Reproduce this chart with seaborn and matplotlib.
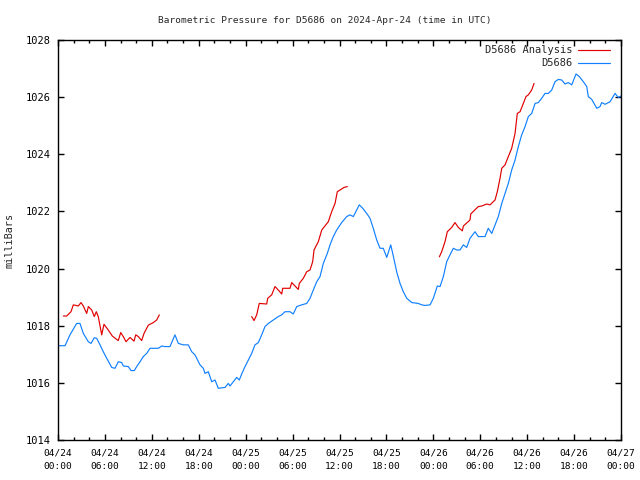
import matplotlib
matplotlib.use('Agg')

import matplotlib.pyplot as plt
import matplotlib.dates as mdates
import seaborn as sns
import pandas as pd
import numpy as np

# hours after 2024-04-24 00:00 UTC, pressure in mbar
blue_hours = [0.00, 0.90, 1.53, 2.39, 2.81, 3.24, 3.88, 4.22, 4.64, 4.95, 5.37, 5.79, 6.23, 6.87,
              7.29, 7.71, 8.15, 8.35, 8.99, 9.34, 9.76, 10.07, 10.49, 10.91, 11.34, 11.77, 12.83,
              13.26, 13.68, 14.32, 14.96, 15.39, 16.03, 16.66, 17.10, 17.52, 18.16, 18.58, 18.80,
              19.22, 19.66, 20.08, 20.50, 21.36, 21.78, 22.00, 22.42, 22.85, 23.19, 23.49, 23.92,
              24.34, 24.77, 25.19, 25.62, 26.05, 26.47, 26.90, 27.54, 28.17, 28.61, 29.03, 29.67,
              30.09, 30.53, 31.17, 31.81, 32.23, 32.65, 33.09, 33.51, 33.93, 34.44, 34.79, 35.21,
              35.64, 36.28, 36.92, 37.34, 37.77, 38.20, 38.53, 38.97, 39.48, 39.90, 40.32, 40.76,
              41.18, 41.60, 42.04, 42.55, 42.88, 43.32, 43.74, 44.16, 44.60, 45.24, 46.08, 46.51,
              46.94, 47.58, 48.00, 48.51, 48.86, 49.28, 49.71, 50.13, 50.56, 50.99, 51.41, 51.84,
              52.27, 52.69, 53.33, 53.75, 54.61, 55.03, 55.47, 55.89, 56.31, 56.75, 57.17, 57.59,
              58.02, 58.45, 58.87, 59.30, 59.73, 60.15, 60.58, 61.01, 61.43, 61.86, 62.28, 62.71,
              63.14, 63.56, 63.98, 64.42, 64.84, 65.26, 65.70, 66.25, 66.67, 67.18, 67.62, 67.82,
              68.26, 68.90, 69.32, 69.53, 69.96, 70.60, 71.24, 71.66, 72.00]
blue_mbar = [1017.30, 1017.30, 1017.68, 1018.08, 1018.08, 1017.73, 1017.44, 1017.38, 1017.58,
             1017.56, 1017.33, 1017.09, 1016.86, 1016.54, 1016.51, 1016.74, 1016.71, 1016.59,
             1016.57, 1016.43, 1016.43, 1016.57, 1016.74, 1016.92, 1017.03, 1017.21, 1017.21,
             1017.29, 1017.27, 1017.27, 1017.68, 1017.38, 1017.33, 1017.33, 1017.09, 1016.98,
             1016.63, 1016.51, 1016.33, 1016.39, 1016.04, 1016.10, 1015.81, 1015.84, 1015.98,
             1015.89, 1016.04, 1016.19, 1016.10, 1016.31, 1016.57, 1016.80, 1017.03, 1017.33,
             1017.41, 1017.68, 1017.97, 1018.08, 1018.20, 1018.32, 1018.38, 1018.49, 1018.49,
             1018.41, 1018.67, 1018.73, 1018.78, 1018.96, 1019.25, 1019.54, 1019.72, 1020.18,
             1020.53, 1020.83, 1021.12, 1021.35, 1021.61, 1021.82, 1021.88, 1021.82, 1022.05,
             1022.23, 1022.11, 1021.93, 1021.76, 1021.41, 1021.00, 1020.71, 1020.71, 1020.39,
             1020.83, 1020.44, 1019.88, 1019.48, 1019.19, 1018.96, 1018.81, 1018.78, 1018.73,
             1018.71, 1018.73, 1018.96, 1019.39, 1019.37, 1019.72, 1020.24, 1020.48, 1020.71,
             1020.65, 1020.65, 1020.83, 1020.74, 1021.06, 1021.29, 1021.12, 1021.12, 1021.41,
             1021.23, 1021.53, 1021.82, 1022.28, 1022.63, 1022.98, 1023.45, 1023.80, 1024.27,
             1024.68, 1024.97, 1025.32, 1025.43, 1025.78, 1025.81, 1025.96, 1026.13, 1026.13,
             1026.25, 1026.54, 1026.62, 1026.60, 1026.46, 1026.51, 1026.43, 1026.81, 1026.72,
             1026.54, 1026.37, 1026.02, 1025.92, 1025.61, 1025.67, 1025.81, 1025.75, 1025.84,
             1026.13, 1025.99, 1026.04]

# analysis, three separate runs
red_hours_1 = [0.68, 1.11, 1.66, 1.96, 2.60, 2.94, 3.24, 3.67, 3.88, 4.31, 4.64, 4.90, 5.15, 5.59,
               5.88, 6.43, 6.94, 7.51, 7.71, 8.02, 8.35, 8.70, 9.21, 9.72, 9.94, 10.27, 10.70,
               11.00, 11.55, 12.19, 12.62, 12.96]
red_mbar_1 = [1018.34, 1018.34, 1018.49, 1018.73, 1018.69, 1018.81, 1018.69, 1018.43, 1018.67,
              1018.55, 1018.32, 1018.49, 1018.32, 1017.68, 1018.05, 1017.85, 1017.64, 1017.52,
              1017.48, 1017.76, 1017.62, 1017.44, 1017.59, 1017.46, 1017.68, 1017.62, 1017.48,
              1017.73, 1018.02, 1018.11, 1018.20, 1018.38]
red_hours_2 = [24.77, 25.07, 25.41, 25.74, 26.69, 26.82, 27.33, 27.75, 28.17, 28.61, 28.74, 29.67,
               29.89, 30.31, 30.73, 30.86, 31.37, 31.81, 32.23, 32.57, 32.74, 33.29, 33.73, 34.57,
               35.00, 35.43, 35.72, 36.07, 36.58, 37.00]
red_mbar_2 = [1018.32, 1018.18, 1018.38, 1018.78, 1018.76, 1018.96, 1019.08, 1019.37, 1019.25,
              1019.11, 1019.31, 1019.31, 1019.51, 1019.39, 1019.27, 1019.48, 1019.66, 1019.89,
              1019.95, 1020.24, 1020.65, 1020.94, 1021.35, 1021.64, 1021.99, 1022.28, 1022.69,
              1022.75, 1022.84, 1022.87]
red_hours_3 = [48.77, 49.07, 49.49, 49.79, 50.35, 50.77, 51.20, 51.71, 51.84, 52.69, 52.78, 53.75,
               54.19, 54.83, 55.25, 55.89, 56.18, 56.53, 56.75, 57.17, 57.59, 58.02, 58.45, 58.74,
               59.09, 59.51, 59.85, 60.15, 60.58, 60.88]
red_mbar_3 = [1020.41, 1020.59, 1020.94, 1021.29, 1021.44, 1021.61, 1021.44, 1021.32, 1021.49,
              1021.70, 1021.91, 1022.17, 1022.19, 1022.26, 1022.23, 1022.40, 1022.69, 1023.16,
              1023.51, 1023.63, 1023.92, 1024.21, 1024.73, 1025.43, 1025.49, 1025.78, 1026.02,
              1026.08, 1026.25, 1026.48]

start = pd.Timestamp('2024-04-24 00:00')
end = pd.Timestamp('2024-04-27 00:00')

blue_df = pd.DataFrame({'time': start + pd.to_timedelta(blue_hours, unit='h'),
                        'mbar': blue_mbar})
red_parts = []
for i, (hh, mm) in enumerate([(red_hours_1, red_mbar_1), (red_hours_2, red_mbar_2),
                              (red_hours_3, red_mbar_3)]):
    red_parts.append(pd.DataFrame({'time': start + pd.to_timedelta(hh, unit='h'),
                                   'mbar': mm, 'seg': i}))
red_df = pd.concat(red_parts, ignore_index=True)

sns.set_style('ticks')
plt.rcParams['font.family'] = ['DejaVu Sans Mono']
plt.rcParams['font.size'] = 7

RED = '#e00000'
BLUE = '#1080ff'

fig = plt.figure(figsize=(6.4, 4.8), dpi=100)
ax = fig.add_axes([58 / 640, 40 / 480, 563 / 640, 400 / 480])

sns.lineplot(data=red_df, x='time', y='mbar', units='seg', estimator=None,
             color=RED, lw=0.85, ax=ax, legend=False)
sns.lineplot(data=blue_df, x='time', y='mbar', color=BLUE, lw=0.85, ax=ax, legend=False)

ax.set_xlim(start, end)
ax.set_ylim(1014, 1028)
ax.set_yticks(np.arange(1014, 1029, 2))
ax.xaxis.set_major_locator(mdates.HourLocator(byhour=[0, 6, 12, 18]))
ax.xaxis.set_minor_locator(mdates.HourLocator(byhour=range(0, 24, 2)))
ax.xaxis.set_major_formatter(mdates.DateFormatter('%m/%d\n%H:%M'))

for s in ax.spines.values():
    s.set_color('black')
    s.set_linewidth(1.0)
    s.set_visible(True)

ax.tick_params(axis='both', which='both', direction='in', top=True, right=True,
               colors='black', width=1.0)
ax.tick_params(axis='both', which='major', length=4.5)
ax.tick_params(axis='both', which='minor', length=2.5)
ax.tick_params(axis='x', which='major', pad=6, labelsize=6.8)
ax.tick_params(axis='y', which='major', pad=5, labelsize=7.5)

ax.set_xlabel('')
ax.set_ylabel('milliBars', fontsize=7.3, labelpad=8)
fig.suptitle('Barometric Pressure for D5686 on 2024-Apr-24 (time in UTC)',
             x=0.508, y=0.958, va='center', fontsize=6.8)

# legend: one entry per box so the texts stay right-justified against the sample lines
red_line = ax.lines[0]
blue_line = ax.lines[-1]
leg1 = ax.legend([red_line], ['D5686 Analysis'], loc='upper right',
                 bbox_to_anchor=(1.0 - 4 / 563, 1.0 + 2 / 400),
                 frameon=False, markerfirst=False, handlelength=3.0, handletextpad=0.6,
                 borderaxespad=0.3, fontsize=7.5)
ax.add_artist(leg1)
ax.legend([blue_line], ['D5686'], loc='upper right',
          bbox_to_anchor=(1.0 - 4 / 563, 1.0 + 2 / 400 - 13 / 400),
          frameon=False, markerfirst=False, handlelength=3.0, handletextpad=0.6,
          borderaxespad=0.3, fontsize=7.5)

fig.canvas.draw()
for lbl in ax.get_xticklabels():
    lbl.set_linespacing(1.6)

fig.savefig('out.png', dpi=100)
plt.close(fig)
